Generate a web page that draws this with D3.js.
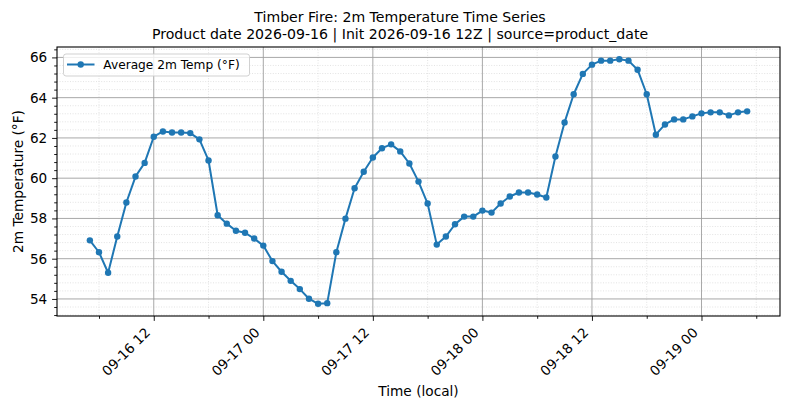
<!DOCTYPE html>
<html>
<head>
<meta charset="utf-8">
<script src="https://cdn.jsdelivr.net/npm/d3@7/dist/d3.min.js"></script>
<style>
	body { margin: 0; background: #fff; }
	svg { display: block; font-family: "DejaVu Sans", sans-serif; }
</style>
</head>
<body>
<svg id="chart"></svg>
<script>
// hourly timestamps (local)
const times = [
	"2026-09-16 05", "2026-09-16 06", "2026-09-16 07", "2026-09-16 08", "2026-09-16 09", "2026-09-16 10",
	"2026-09-16 11", "2026-09-16 12", "2026-09-16 13", "2026-09-16 14", "2026-09-16 15", "2026-09-16 16",
	"2026-09-16 17", "2026-09-16 18", "2026-09-16 19", "2026-09-16 20", "2026-09-16 21", "2026-09-16 22",
	"2026-09-16 23",
	"2026-09-17 00", "2026-09-17 01", "2026-09-17 02", "2026-09-17 03", "2026-09-17 04", "2026-09-17 05",
	"2026-09-17 06", "2026-09-17 07", "2026-09-17 08", "2026-09-17 09", "2026-09-17 10", "2026-09-17 11",
	"2026-09-17 12", "2026-09-17 13", "2026-09-17 14", "2026-09-17 15", "2026-09-17 16", "2026-09-17 17",
	"2026-09-17 18", "2026-09-17 19", "2026-09-17 20", "2026-09-17 21", "2026-09-17 22", "2026-09-17 23",
	"2026-09-18 00", "2026-09-18 01", "2026-09-18 02", "2026-09-18 03", "2026-09-18 04", "2026-09-18 05",
	"2026-09-18 06", "2026-09-18 07", "2026-09-18 08", "2026-09-18 09", "2026-09-18 10", "2026-09-18 11",
	"2026-09-18 12", "2026-09-18 13", "2026-09-18 14", "2026-09-18 15", "2026-09-18 16", "2026-09-18 17",
	"2026-09-18 18", "2026-09-18 19", "2026-09-18 20", "2026-09-18 21", "2026-09-18 22", "2026-09-18 23",
	"2026-09-19 00", "2026-09-19 01", "2026-09-19 02", "2026-09-19 03", "2026-09-19 04", "2026-09-19 05"
];

// average 2m temperature, deg F
const tempF = [
	56.91, 56.32, 55.30, 57.10, 58.79, 60.08, 60.76, 62.06, 62.32, 62.27, 62.27, 62.24,
	61.93, 60.88, 58.16, 57.74, 57.39, 57.29, 57.00,
	56.65, 55.88, 55.35, 54.90, 54.49, 54.01, 53.76, 53.79, 56.32, 57.99, 59.50, 60.32,
	61.03, 61.49, 61.68, 61.33, 60.73, 59.83, 58.74, 56.70, 57.10, 57.71, 58.09, 58.09,
	58.39, 58.29, 58.74, 59.09, 59.29, 59.29, 59.19, 59.04, 61.08, 62.77, 64.17, 65.18,
	65.64, 65.84, 65.84, 65.91, 65.84, 65.39, 64.17, 62.16, 62.67, 62.92, 62.92, 63.07,
	63.22, 63.27, 63.27, 63.12, 63.27, 63.32
];

const yTicks = [54, 56, 58, 60, 62, 64, 66];
const titleLines = [
	"Timber Fire: 2m Temperature Time Series",
	"Product date 2026-09-16 | Init 2026-09-16 12Z | source=product_date"
];
const seriesName = "Average 2m Temp (°F)";
const xLabel = "Time (local)";
const yLabel = "2m Temperature (°F)";

const width = 789;
const height = 409;
const margin = { top: 47, right: 9, bottom: 93, left: 57 };
const color = "#1f77b4";

function drawChart() {
	const parse = d3.timeParse("%Y-%m-%d %H");
	const data = times.map((t, i) => ({ date: parse(t), value: tempF[i] }));

	const svg = d3.select("#chart").attr("width", width).attr("height", height);

	const x0 = margin.left;
	const x1 = width - margin.right;
	const y0 = height - margin.bottom;
	const y1 = margin.top;

	// matplotlib style 5% padding
	const tExt = d3.extent(data, (d) => d.date);
	const tPad = (tExt[1] - tExt[0]) * 0.05;
	const x = d3
		.scaleTime()
		.domain([new Date(+tExt[0] - tPad), new Date(+tExt[1] + tPad)])
		.range([x0, x1]);

	const vExt = d3.extent(data, (d) => d.value);
	const vPad = (vExt[1] - vExt[0]) * 0.05;
	const y = d3
		.scaleLinear()
		.domain([vExt[0] - vPad, vExt[1] + vPad])
		.range([y0, y1]);

	const xMajor = x.ticks(d3.timeHour.every(12));
	const xMinor = x.ticks(d3.timeHour.every(6)).filter((d) => d.getHours() % 12 !== 0);
	const yMinor = d3
		.range(53.2, 66.6, 0.4)
		.filter((v) => v >= y.domain()[0] && v <= y.domain()[1])
		.filter((v) => Math.abs(v / 2 - Math.round(v / 2)) > 0.01);

	// grid
	const grid = svg.append("g");
	grid
		.selectAll(".vminor")
		.data(xMinor)
		.join("line")
		.attr("x1", (d) => x(d))
		.attr("x2", (d) => x(d))
		.attr("y1", y1)
		.attr("y2", y0)
		.attr("stroke", "#dcdcdc")
		.attr("stroke-width", 0.8)
		.attr("stroke-dasharray", "1,1.6");
	grid
		.selectAll(".hminor")
		.data(yMinor)
		.join("line")
		.attr("x1", x0)
		.attr("x2", x1)
		.attr("y1", (d) => y(d))
		.attr("y2", (d) => y(d))
		.attr("stroke", "#dcdcdc")
		.attr("stroke-width", 0.8)
		.attr("stroke-dasharray", "1,1.6");
	grid
		.selectAll(".vmajor")
		.data(xMajor)
		.join("line")
		.attr("x1", (d) => x(d))
		.attr("x2", (d) => x(d))
		.attr("y1", y1)
		.attr("y2", y0)
		.attr("stroke", "#9e9e9e")
		.attr("stroke-width", 0.9);
	grid
		.selectAll(".hmajor")
		.data(yTicks)
		.join("line")
		.attr("x1", x0)
		.attr("x2", x1)
		.attr("y1", (d) => y(d))
		.attr("y2", (d) => y(d))
		.attr("stroke", "#9e9e9e")
		.attr("stroke-width", 0.9);

	// series
	const line = d3
		.line()
		.x((d) => x(d.date))
		.y((d) => y(d.value));

	svg
		.append("path")
		.datum(data)
		.attr("d", line)
		.attr("fill", "none")
		.attr("stroke", color)
		.attr("stroke-width", 2)
		.attr("stroke-linejoin", "round");

	svg
		.append("g")
		.selectAll("circle")
		.data(data)
		.join("circle")
		.attr("cx", (d) => x(d.date))
		.attr("cy", (d) => y(d.value))
		.attr("r", 3.2)
		.attr("fill", color);

	// axes
	const xAxis = svg
		.append("g")
		.attr("transform", "translate(0," + y0 + ")")
		.call(
			d3
				.axisBottom(x)
				.tickValues(xMajor)
				.tickFormat(d3.timeFormat("%m-%d %H"))
				.tickSize(4.9)
				.tickPadding(0)
		);
	xAxis
		.selectAll("text")
		.attr("x", 0)
		.attr("y", 0)
		.attr("dy", null)
		.attr("transform", "translate(-3.2,17.5) rotate(-45)")
		.style("text-anchor", "end");

	svg
		.append("g")
		.attr("transform", "translate(0," + y0 + ")")
		.call(d3.axisBottom(x).tickValues(xMinor).tickFormat("").tickSize(2.8));

	svg
		.append("g")
		.attr("transform", "translate(" + x0 + ",0)")
		.call(d3.axisLeft(y).tickValues(yTicks).tickFormat(d3.format("d")).tickSize(4.9).tickPadding(4.9));

	svg
		.append("g")
		.attr("transform", "translate(" + x0 + ",0)")
		.call(d3.axisLeft(y).tickValues(yMinor).tickFormat("").tickSize(2.8));

	svg.selectAll(".domain").remove();
	svg.selectAll(".tick line").attr("stroke", "#000").attr("stroke-width", 0.9);
	svg.selectAll(".tick text").attr("fill", "#000").style("font-size", "13.6px").style("font-family", "DejaVu Sans");

	// spines
	svg
		.append("rect")
		.attr("x", x0)
		.attr("y", y1)
		.attr("width", x1 - x0)
		.attr("height", y0 - y1)
		.attr("fill", "none")
		.attr("stroke", "#000")
		.attr("stroke-width", 1.1);

	// titles and labels
	svg
		.append("g")
		.selectAll("text")
		.data(titleLines)
		.join("text")
		.attr("x", 400)
		.attr("y", (d, i) => 21.7 + i * 17.4)
		.attr("text-anchor", "middle")
		.style("font-size", "14.1px")
		.text((d) => d);

	svg
		.append("text")
		.attr("x", (x0 + x1) / 2)
		.attr("y", 396)
		.attr("text-anchor", "middle")
		.style("font-size", "13.7px")
		.text(xLabel);

	svg
		.append("text")
		.attr("transform", "translate(22.5," + (y0 + y1) / 2 + ") rotate(-90)")
		.attr("text-anchor", "middle")
		.style("font-size", "13.7px")
		.text(yLabel);

	// legend
	const legend = svg.append("g").attr("transform", "translate(63.5,54)");
	legend
		.append("rect")
		.attr("width", 186)
		.attr("height", 22)
		.attr("rx", 2.5)
		.attr("fill", "#fff")
		.attr("fill-opacity", 0.8)
		.attr("stroke", "#cccccc")
		.attr("stroke-width", 0.9);
	legend
		.append("line")
		.attr("x1", 3.5)
		.attr("x2", 31)
		.attr("y1", 10.5)
		.attr("y2", 10.5)
		.attr("stroke", color)
		.attr("stroke-width", 2);
	legend.append("circle").attr("cx", 17.2).attr("cy", 10.5).attr("r", 3.2).attr("fill", color);
	legend
		.append("text")
		.attr("x", 39.8)
		.attr("y", 15)
		.style("font-size", "12.2px")
		.text(seriesName);
}

drawChart();
</script>
</body>
</html>
